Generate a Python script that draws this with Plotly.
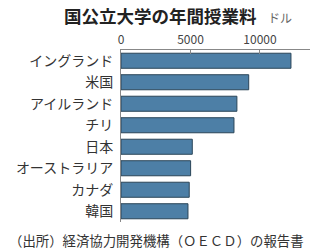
import plotly.graph_objects as go

countries = ["イングランド", "米国", "アイルランド", "チリ", "日本", "オーストラリア", "カナダ", "韓国"]
fees = [12230, 9190, 8340, 8130, 5130, 5010, 4910, 4820]
tick_vals = [0, 5000, 10000]
tick_text = ["0", "5000", "10000"]

FONT = "Noto Sans CJK JP"

fig = go.Figure(go.Bar(
    x=fees, y=countries, orientation="h", width=0.7,
    marker=dict(color="#4d7fa6", line=dict(color="#2a4558", width=1)),
))

fig.update_layout(
    width=319, height=252,
    margin=dict(l=121, r=9, t=50, b=30),
    paper_bgcolor="white", plot_bgcolor="white",
    showlegend=False,
    font=dict(family=FONT, color="#333"),
    bargap=0.3,
)
fig.update_xaxes(
    side="top", range=[0, 13600], tickvals=tick_vals, ticktext=tick_text,
    showgrid=False, zeroline=False, showline=True, linecolor="#888", linewidth=1,
    ticks="inside", ticklen=4, tickcolor="#888",
    tickfont=dict(size=12, color="#444", family=FONT),
)
fig.update_yaxes(
    autorange="reversed", showgrid=False, zeroline=False,
    showline=True, linecolor="#888", linewidth=1, ticks="",
    tickfont=dict(size=14, color="#333", family=FONT), ticklabelstandoff=4,
)
fig.add_annotation(text="<b>国公立大学の年間授業料</b>", xref="paper", yref="paper",
                   x=(62 - 121) / 189, y=1.0, xanchor="left", yanchor="middle", yshift=35,
                   showarrow=False, font=dict(size=17.5, color="#222", family=FONT))
fig.add_annotation(text="ドル", xref="paper", yref="paper",
                   x=(266 - 121) / 189, y=1.0, xanchor="left", yanchor="middle", yshift=33,
                   showarrow=False, font=dict(size=12, color="#666", family=FONT))
fig.add_annotation(text="（出所）経済協力開発機構（ＯＥＣＤ）の報告書", xref="paper", yref="paper",
                   x=(7 - 121) / 189, y=0, xanchor="left", yanchor="middle", yshift=-18,
                   showarrow=False, font=dict(size=13.4, color="#333", family=FONT))

fig.write_html("out.html")
